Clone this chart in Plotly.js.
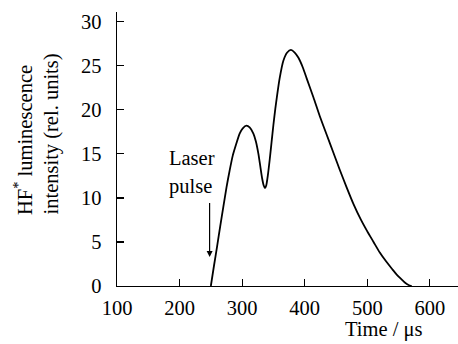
<!DOCTYPE html>
<html><head><meta charset="utf-8">
<script src="https://cdn.plot.ly/plotly-3.0.1.min.js"></script>
<style>html,body{margin:0;padding:0;background:#fff}#plot{width:458px;height:344px}</style>
</head><body><div id="plot"></div>
<script>
const timeUs = [250, 255, 260, 265, 270, 275, 280, 285, 290, 296, 301, 307, 312, 318, 322, 326, 329, 332, 334.5, 336.5, 338.5, 341, 344, 347, 350, 353, 356, 360, 366, 372, 378, 384, 390, 397, 403, 414, 424, 435, 445, 456, 467, 478, 490, 500, 510, 520, 530, 540, 547, 554, 560, 566, 571];
const intensity = [0, 2.3, 4.5, 6.8, 9.0, 11.2, 13.1, 14.8, 16.0, 17.3, 17.9, 18.2, 18.0, 17.3, 16.4, 15.0, 13.6, 12.2, 11.4, 11.1, 11.4, 12.5, 14.3, 16.3, 18.3, 20.1, 21.7, 23.6, 25.6, 26.5, 26.8, 26.5, 25.9, 24.8, 23.6, 21.4, 19.3, 17.2, 15.3, 13.2, 11.2, 9.3, 7.5, 6.2, 5.0, 3.8, 2.8, 1.9, 1.3, 0.8, 0.4, 0.12, 0];
const xTicks = [100, 200, 300, 400, 500, 600];
const yTicks = [0, 5, 10, 15, 20, 25, 30];
const pulseTime = 250;

const F = 'Liberation Serif';
const FS = 20.5;
const trace = {x: timeUs, y: intensity, mode: 'lines', type: 'scatter',
  line: {color: '#000', width: 1.8, shape: 'spline', smoothing: 0.6}, hoverinfo: 'skip'};

const layout = {
  width: 458, height: 344,
  margin: {l: 117, r: 0, t: 12, b: 58},
  paper_bgcolor: '#fff', plot_bgcolor: '#fff',
  showlegend: false,
  font: {family: F, size: FS, color: '#000'},
  xaxis: {range: [100, 645], tickvals: xTicks, ticktext: xTicks.map(String),
    ticks: 'inside', ticklen: 7, tickwidth: 1.2, tickcolor: '#000', ticklabelstandoff: 3,
    showline: true, linecolor: '#000', linewidth: 1.4, showgrid: false, zeroline: false,
    tickfont: {family: F, size: FS}},
  yaxis: {range: [0, 31.1], tickvals: yTicks, ticktext: yTicks.map(String),
    ticks: 'inside', ticklen: 7, tickwidth: 1.2, tickcolor: '#000', ticklabelstandoff: 10,
    showline: true, linecolor: '#000', linewidth: 1.4, showgrid: false, zeroline: false,
    tickfont: {family: F, size: FS}},
  annotations: [
    {xref: 'x', yref: 'paper', x: 526, y: -0.16, text: 'Time / μs', showarrow: false,
      xanchor: 'center', yanchor: 'middle', font: {family: F, size: FS}},
    {xref: 'paper', yref: 'paper', x: -0.2757, y: 0.2518, textangle: -90,
      text: 'HF<sup>*</sup> luminescence', showarrow: false,
      xanchor: 'center', yanchor: 'bottom', font: {family: F, size: FS}},
    {xref: 'paper', yref: 'paper', x: -0.1906, y: 0.2518, textangle: -90,
      text: 'intensity (rel. units)', showarrow: false,
      xanchor: 'center', yanchor: 'bottom', font: {family: F, size: FS}},
    {xref: 'x', yref: 'y', x: 180, y: 14.5, text: 'Laser', showarrow: false,
      xanchor: 'left', yanchor: 'middle', font: {family: F, size: FS}},
    {xref: 'x', yref: 'y', x: 180, y: 11.25, text: 'pulse', showarrow: false,
      xanchor: 'left', yanchor: 'middle', font: {family: F, size: FS}},
    {xref: 'x', yref: 'y', x: pulseTime - 2, y: 3.3, axref: 'x', ayref: 'y', ax: pulseTime - 2, ay: 9.6,
      text: '', showarrow: true, arrowhead: 2, arrowsize: 1, arrowwidth: 1.2, arrowcolor: '#000'}
  ]
};
Plotly.newPlot('plot', [trace], layout, {staticPlot: true, displayModeBar: false});
</script></body></html>
